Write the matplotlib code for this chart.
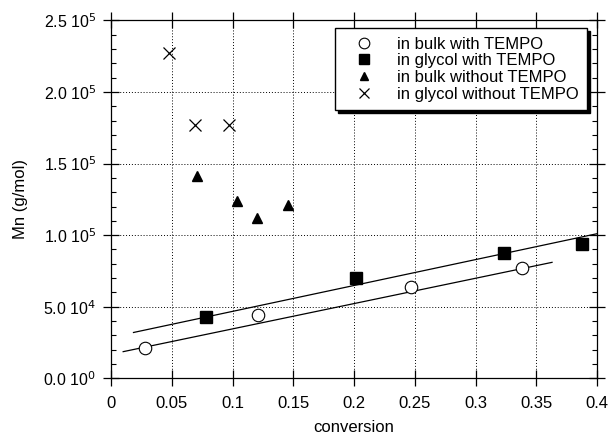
import numpy as np
import matplotlib
matplotlib.use("Agg")
import matplotlib.pyplot as plt
from matplotlib.ticker import MultipleLocator, FixedLocator

plt.rcParams['font.family'] = ['Liberation Sans', 'DejaVu Sans']

# data
bulk_tempo_x = [0.028, 0.121, 0.247, 0.338]
bulk_tempo_y = [2.1e4, 4.4e4, 6.35e4, 7.7e4]
glycol_tempo_x = [0.078, 0.202, 0.3235, 0.388]
glycol_tempo_y = [4.3e4, 7.0e4, 8.75e4, 9.4e4]
bulk_no_x = [0.0705, 0.1035, 0.120, 0.1455]
bulk_no_y = [1.41e5, 1.24e5, 1.12e5, 1.21e5]
glycol_no_x = [0.048, 0.069, 0.097]
glycol_no_y = [2.27e5, 1.77e5, 1.77e5]

# fitted lines (end points)
fit_glycol_x = [0.0185, 0.40]
fit_glycol_y = [3.2e4, 1.01e5]
fit_bulk_x = [0.010, 0.363]
fit_bulk_y = [1.86e4, 8.1e4]

ytick_vals = [0, 5e4, 1e5, 1.5e5, 2e5, 2.5e5]
ytick_labels = ['0.0 10$^{0}$', '5.0 10$^{4}$', '1.0 10$^{5}$',
                '1.5 10$^{5}$', '2.0 10$^{5}$', '2.5 10$^{5}$']
xtick_vals = [0, 0.05, 0.1, 0.15, 0.2, 0.25, 0.3, 0.35, 0.4]
xtick_labels = ['0', '0.05', '0.1', '0.15', '0.2', '0.25', '0.3', '0.35', '0.4']

fig = plt.figure(figsize=(6.09, 4.44), dpi=100)
ax = fig.add_axes([0.1823, 0.148, 0.798, 0.806])

ax.plot(fit_glycol_x, fit_glycol_y, color='k', lw=0.9)
ax.plot(fit_bulk_x, fit_bulk_y, color='k', lw=0.9)

ax.plot(bulk_tempo_x, bulk_tempo_y, 'o', ms=9, mfc='white', mec='k', mew=0.8,
        label='in bulk with TEMPO')
ax.plot(glycol_tempo_x, glycol_tempo_y, 's', ms=9, mfc='k', mec='k',
        label='in glycol with TEMPO')
ax.plot(bulk_no_x, bulk_no_y, '^', ms=7.5, mfc='k', mec='k',
        label='in bulk without TEMPO')
ax.plot(glycol_no_x, glycol_no_y, 'x', ms=9, color='k', mew=0.9,
        label='in glycol without TEMPO')

ax.set_xlim(0, 0.4)
ax.set_ylim(0, 2.5e5)
ax.xaxis.set_major_locator(FixedLocator(xtick_vals))
ax.set_xticklabels(xtick_labels)
ax.yaxis.set_major_locator(FixedLocator(ytick_vals))
ax.set_yticklabels(ytick_labels)
ax.yaxis.set_minor_locator(MultipleLocator(1e4))

ax.tick_params(which='major', direction='inout', length=11, width=0.9,
               top=True, right=True, labelsize=12, pad=7)
ax.tick_params(axis='y', which='major', labelsize=11.5, pad=5)
ax.tick_params(which='minor', direction='in', length=3.5, width=0.8,
               left=True, right=True)
ax.grid(True, which='major', linestyle=(0, (1, 2)), color='k', lw=0.7)
for s in ax.spines.values():
    s.set_linewidth(0.9)

ax.set_xlabel('conversion', fontsize=12, labelpad=7)
ax.set_ylabel('Mn (g/mol)', fontsize=12, labelpad=11)

leg = ax.legend(loc='upper right', bbox_to_anchor=(0.979, 0.978), fontsize=12,
                frameon=True, fancybox=False,
                shadow={'color': 'black', 'alpha': 1}, edgecolor='k',
                handletextpad=0.7, labelspacing=0.1, borderpad=0.5,
                handlelength=2.5, borderaxespad=0, markerscale=0.85,
                framealpha=1)
leg.get_frame().set_linewidth(1.0)

fig.savefig('out.png', dpi=100)
